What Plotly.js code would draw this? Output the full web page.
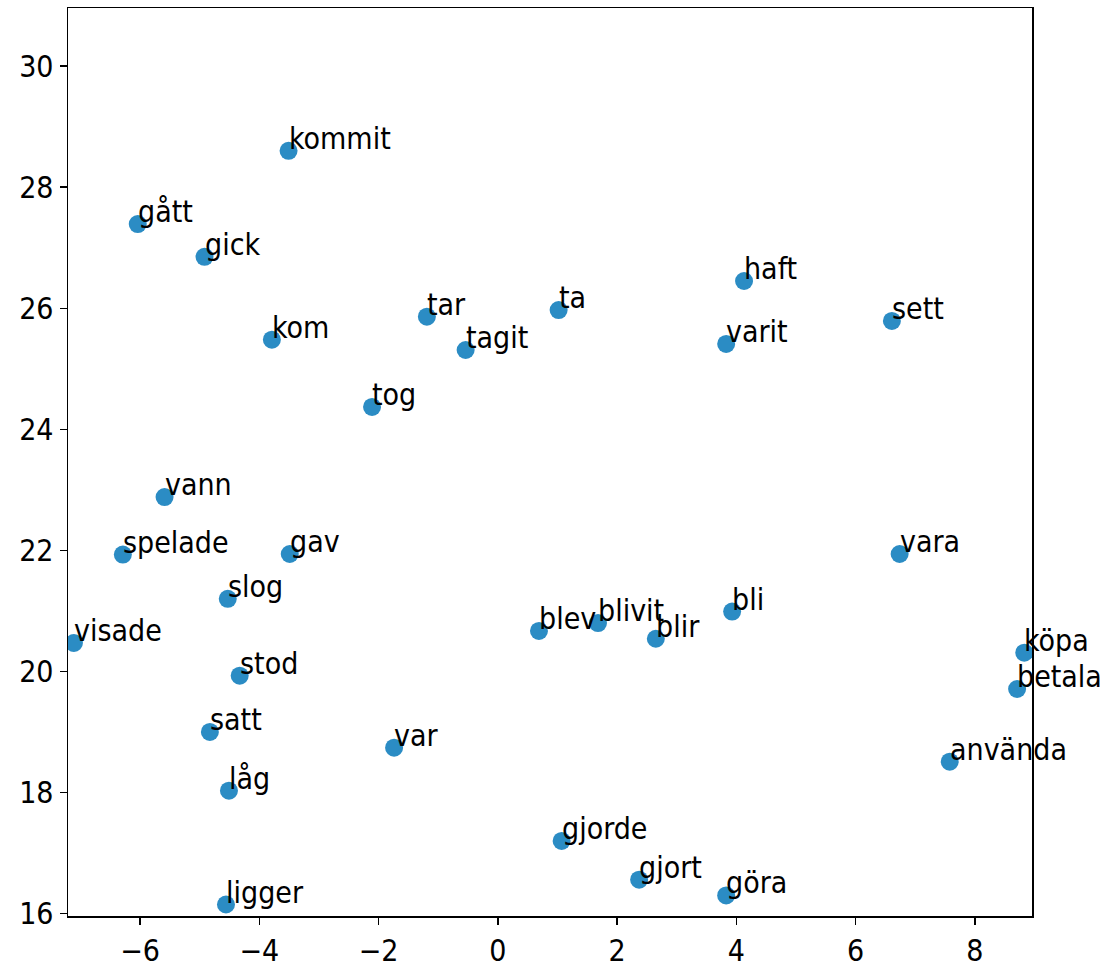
<!DOCTYPE html>
<html>
<head>
<meta charset="utf-8">
<script src="https://cdn.plot.ly/plotly-3.0.1.min.js"></script>
<style>html,body{margin:0;padding:0;background:#fff;}#chart{width:1104px;height:972px;}</style>
</head>
<body>
<div id="chart"></div>
<script>
const words = ["kommit","gått","gick","kom","tar","ta","tagit","haft","varit","sett","tog","vann","spelade","gav","vara","slog","bli","blev","blivit","blir","visade","köpa","betala","stod","satt","var","använda","låg","gjorde","gjort","göra","ligger"];
const xVals = [-3.51,-6.04,-4.92,-3.79,-1.19,1.02,-0.54,4.13,3.83,6.61,-2.11,-5.59,-6.29,-3.49,6.74,-4.53,3.93,0.69,1.68,2.65,-7.11,8.83,8.71,-4.33,-4.83,-1.74,7.58,-4.51,1.07,2.37,3.83,-4.56];
const yVals = [28.60,27.39,26.85,25.48,25.86,25.97,25.31,26.45,25.41,25.79,24.37,22.88,21.93,21.94,21.94,21.20,20.99,20.67,20.80,20.54,20.47,20.31,19.71,19.93,19.00,18.74,18.51,18.03,17.20,16.56,16.30,16.15];
const xTicks = [-6,-4,-2,0,2,4,6,8];
const yTicks = [16,18,20,22,24,26,28,30];

const FONT = "DejaVu Sans Condensed, DejaVu Sans, sans-serif";

const trace = {
  x: xVals, y: yVals, mode: "markers", type: "scatter",
  marker: {color: "#2b8cc4", size: 18},
  cliponaxis: true, hoverinfo: "text", text: words
};

const annotations = words.map((w, i) => ({
  x: xVals[i], y: yVals[i], xref: "x", yref: "y", text: w,
  showarrow: false, xanchor: "left", yanchor: "bottom", yshift: -7, xshift: -2,
  font: {family: FONT, size: 30, color: "#000"}
}));

const axisCommon = {
  showgrid: false, zeroline: false, showline: true, linecolor: "#000", linewidth: 1.5,
  mirror: true, ticks: "outside", ticklen: 7, tickwidth: 1.5, tickcolor: "#000",
  tickfont: {family: FONT, size: 30, color: "#000"}
};

const layout = {
  width: 1104, height: 972,
  margin: {l: 68, r: 72, t: 8, b: 56, pad: 0},
  paper_bgcolor: "#fff", plot_bgcolor: "#fff",
  showlegend: false,
  xaxis: Object.assign({}, axisCommon, {range: [-7.21, 8.96], tickvals: xTicks, ticktext: xTicks.map(v => v < 0 ? "\u2212" + Math.abs(v) : String(v))}),
  yaxis: Object.assign({}, axisCommon, {range: [15.96, 30.96], tickvals: yTicks}),
  annotations: annotations
};

Plotly.newPlot("chart", [trace], layout, {displayModeBar: false, staticPlot: true});
</script>
</body>
</html>
